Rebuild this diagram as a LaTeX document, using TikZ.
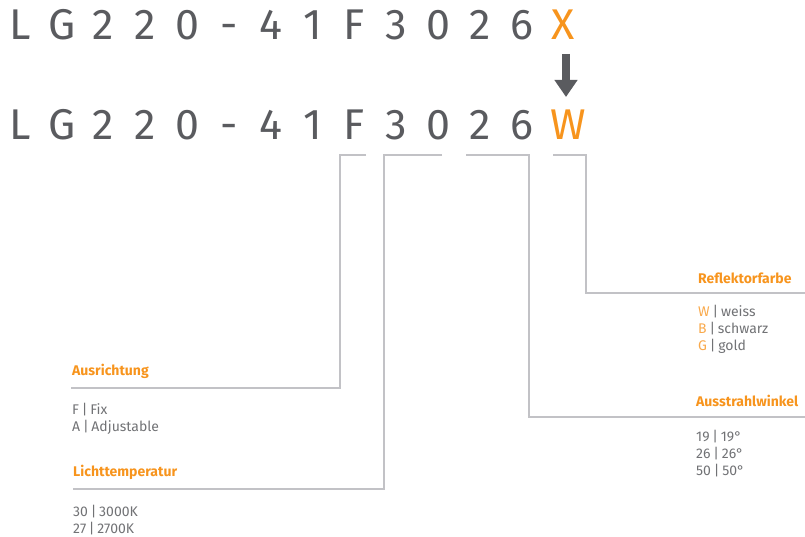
\documentclass[tikz,border=0pt]{standalone}
\usepackage{fontspec}
\setmainfont{Fira Sans}
\usetikzlibrary{arrows.meta}
\definecolor{dg}{HTML}{5A5B5F}
\definecolor{org}{HTML}{F7941D}
\definecolor{lorg}{HTML}{F9A94B}
\definecolor{lg}{HTML}{C2C2C6}
\definecolor{tg}{HTML}{717275}
\newcommand{\pp}{\hspace{0.2em}|\hspace{0.2em}}
\tikzset{
  big/.style={font=\fontsize{43}{43}\selectfont, text=dg, anchor=base, inner sep=0pt},
  head/.style={font=\fontsize{14}{14}\selectfont\bfseries, text=org, anchor=base west, inner sep=0pt},
  val/.style={font=\fontsize{14}{14}\selectfont, text=tg, anchor=base west, inner sep=0pt},
  conn/.style={draw=lg, line width=2.8pt, line join=miter},
}
\begin{document}
\begin{tikzpicture}[x=1pt,y=-1pt]
\useasboundingbox (0,0) rectangle (805,537);
% code rows
\foreach \c [count=\i from 0] in {L,G,2,2,0,-,4,1,F,3,0,2,6} {
  \node[big] (t\i) at (20+41.8*\i, 40) {\c};
  \node[big] (b\i) at (20+41.8*\i, 140) {\c};
}
\node[big, text=org] (X) at (563.4, 40) {X};
\node[big, text=org] (W) at (568, 140) {W};
\draw[dg, line width=7.5pt, -{Triangle[width=22pt,length=17pt]}] (566,54) -- (566,97);
% labels
\node[head] (aus) at (72,375) {Ausrichtung};
\node[val] (aus1) at (72,414) {F\pp Fix};
\node[val] (aus2) at (72,431) {A\pp Adjustable};
\node[head] (lic) at (73,476) {Lichttemperatur};
\node[val] (lic1) at (73,516) {30\pp 3000K};
\node[val] (lic2) at (73,533) {27\pp 2700K};
\node[head] (ref) at (698,283) {Reflektorfarbe};
\node[val] (ref1) at (698,316) {\textcolor{lorg}{W}\pp weiss};
\node[val] (ref2) at (698,333) {\textcolor{lorg}{B}\pp schwarz};
\node[val] (ref3) at (698,350) {\textcolor{lorg}{G}\pp gold};
\node[head] (str) at (696,406) {Ausstrahlwinkel};
\node[val] (str1) at (696,441) {19\pp 19°};
\node[val] (str2) at (696,458) {26\pp 26°};
\node[val] (str3) at (696,475) {50\pp 50°};
% connectors
\coordinate (a0) at (366,155);
\coordinate (a1) at (71,388);
\draw[conn] (a0) -- (340,155) -- (340,388) -- (a1);
\coordinate (l0) at (442,155);
\coordinate (l1) at (73,489);
\draw[conn] (l0) -- (384,155) -- (384,489) -- (l1);
\coordinate (s0) at (466,155);
\coordinate (s1) at (805,417);
\draw[conn] (s0) -- (529,155) -- (529,417) -- (s1);
\coordinate (r0) at (553,155);
\coordinate (r1) at (805,293);
\draw[conn] (r0) -- (586,155) -- (586,293) -- (r1);
\end{tikzpicture}
\end{document}
